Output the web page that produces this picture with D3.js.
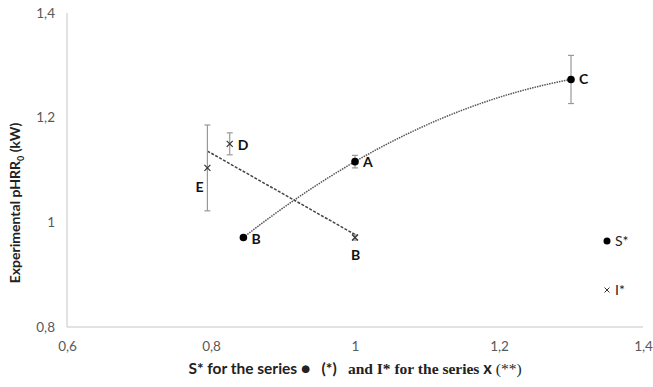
<!DOCTYPE html>
<html lang="en">
<head>
<meta charset="UTF-8">
<title>pHRR0 vs S* / I*</title>
<script src="https://cdn.jsdelivr.net/npm/d3@7"></script>
<style>
  body { margin: 0; background: #fff; }
  svg { font-family: Lato, "Open Sans", sans-serif; }
  .serif { font-family: "Liberation Serif", "DejaVu Serif", serif; }
</style>
</head>
<body>
<script>
// series S* (dots)
const sLabels = ["B", "A", "C"];
const sX = [0.845, 1.0, 1.3];
const sY = [0.971, 1.116, 1.273];
const sErr = [0, 0.012, 0.046];

// series I* (crosses)
const iLabels = ["E", "D", "B"];
const iX = [0.795, 0.826, 1.0];
const iY = [1.104, 1.15, 0.971];
const iErr = [0.082, 0.021, 0.005];

const xTicks = [0.6, 0.8, 1, 1.2, 1.4];
const yTicks = [0.8, 1, 1.2, 1.4];

const w = 653, h = 387;
const margin = {left: 67, right: 10, top: 13, bottom: 60};

const svg = d3.select("body").append("svg")
    .attr("width", w)
    .attr("height", h);

const x = d3.scaleLinear().domain([0.6, 1.4]).range([margin.left, 643]);
const y = d3.scaleLinear().domain([0.8, 1.4]).range([327, margin.top]);

const fmt = d => String(d).replace(".", ",");

// axes
const xAxis = svg.append("g")
    .attr("transform", "translate(0,327)")
    .call(d3.axisBottom(x).tickValues(xTicks).tickFormat(fmt).tickSize(0).tickPadding(14));
const yAxis = svg.append("g")
    .attr("transform", "translate(" + margin.left + ",0)")
    .call(d3.axisLeft(y).tickValues(yTicks).tickFormat(fmt).tickSize(0).tickPadding(12));
[xAxis, yAxis].forEach(a => {
    a.attr("font-family", null).attr("font-size", null);
    a.select(".domain").attr("stroke", "#d9d9d9").attr("stroke-width", 1.5);
    a.selectAll("text").attr("fill", "#595959").attr("font-size", "13.5px");
});
yAxis.select(".domain").attr("d", "M0," + y(1.4) + "V" + y(0.8));
xAxis.select(".domain").attr("d", "M" + x(0.6) + ",0H" + x(1.4));

// trendline S* : polynomial (order 2) through the three points
function quadFit(xs, ys) {
    const [x0, x1, x2] = xs, [y0, y1, y2] = ys;
    return t => y0 * (t - x1) * (t - x2) / ((x0 - x1) * (x0 - x2))
        + y1 * (t - x0) * (t - x2) / ((x1 - x0) * (x1 - x2))
        + y2 * (t - x0) * (t - x1) / ((x2 - x0) * (x2 - x1));
}
const qf = quadFit(sX, sY);
const curvePts = d3.range(0, 41).map(i => {
    const t = sX[0] + (sX[2] - sX[0]) * i / 40;
    return [t, qf(t)];
});
const line = d3.line().x(d => x(d[0])).y(d => y(d[1]));
svg.append("path")
    .attr("d", line(curvePts))
    .attr("fill", "none")
    .attr("stroke", "#555")
    .attr("stroke-width", 1.5)
    .attr("stroke-dasharray", "1.5,1");

// trendline I* : linear regression
const mx = d3.mean(iX), my = d3.mean(iY);
const slope = d3.sum(iX, (d, i) => (d - mx) * (iY[i] - my)) / d3.sum(iX, d => (d - mx) * (d - mx));
const lin = t => my + slope * (t - mx);
const xMin = d3.min(iX), xMax = d3.max(iX);
svg.append("path")
    .attr("d", line([[xMin, lin(xMin)], [xMax, lin(xMax)]]))
    .attr("fill", "none")
    .attr("stroke", "#444")
    .attr("stroke-width", 1.5)
    .attr("stroke-dasharray", "3,1.5");

// error bars
function errBars(xs, ys, es) {
    const g = svg.append("g").attr("stroke", "#999").attr("stroke-width", 1.2);
    xs.forEach((d, i) => {
        if (!es[i]) return;
        const cx = x(d), top = y(ys[i] + es[i]), bot = y(ys[i] - es[i]);
        g.append("line").attr("x1", cx).attr("x2", cx).attr("y1", top).attr("y2", bot);
        g.append("line").attr("x1", cx - 3).attr("x2", cx + 3).attr("y1", top).attr("y2", top);
        g.append("line").attr("x1", cx - 3).attr("x2", cx + 3).attr("y1", bot).attr("y2", bot);
    });
}
errBars(sX, sY, sErr);
errBars(iX, iY, iErr);

// markers
svg.selectAll("circle.s")
    .data(sX)
    .enter()
    .append("circle")
    .attr("cx", d => x(d))
    .attr("cy", (d, i) => y(sY[i]))
    .attr("r", 3.8)
    .attr("fill", "#000");

function cross(cx, cy, r) {
    return "M" + (cx - r) + "," + (cy - r) + "L" + (cx + r) + "," + (cy + r)
        + "M" + (cx - r) + "," + (cy + r) + "L" + (cx + r) + "," + (cy - r);
}
svg.selectAll("path.i")
    .data(iX)
    .enter()
    .append("path")
    .attr("d", (d, i) => cross(x(d), y(iY[i]), 3))
    .attr("stroke", "#333")
    .attr("stroke-width", 1.2);

// data labels
const sOff = [[8, 6], [8, 5], [8, 5]];
svg.selectAll("text.sl")
    .data(sLabels)
    .enter()
    .append("text")
    .text(d => d)
    .attr("x", (d, i) => x(sX[i]) + sOff[i][0])
    .attr("y", (d, i) => y(sY[i]) + sOff[i][1])
    .attr("font-size", "14px")
    .attr("font-weight", "bold")
    .attr("fill", "#111");

const iOff = [[-12, 24], [8, 6], [-4, 22]];
svg.selectAll("text.il")
    .data(iLabels)
    .enter()
    .append("text")
    .text(d => d)
    .attr("x", (d, i) => x(iX[i]) + iOff[i][0])
    .attr("y", (d, i) => y(iY[i]) + iOff[i][1])
    .attr("font-size", "14px")
    .attr("font-weight", "bold")
    .attr("fill", "#111");

// legend
svg.append("circle").attr("cx", 607).attr("cy", 241).attr("r", 3.5).attr("fill", "#000");
svg.append("text").attr("x", 615).attr("y", 246).text("S*")
    .attr("font-size", "14px").attr("fill", "#222");
svg.append("path").attr("d", cross(607, 290, 2.5)).attr("stroke", "#333").attr("stroke-width", 1);
svg.append("text").attr("x", 615).attr("y", 295).text("I*")
    .attr("font-size", "14px").attr("fill", "#222");

// axis titles
svg.append("text")
    .attr("transform", "translate(20,203) rotate(-90)")
    .attr("text-anchor", "middle")
    .attr("font-size", "14px")
    .attr("font-weight", "bold")
    .attr("fill", "#222")
    .call(t => {
        t.append("tspan").text("Experimental pHRR");
        t.append("tspan").text("0").attr("font-size", "9px").attr("dy", 4);
        t.append("tspan").text(" (kW)").attr("dy", -4);
    });

const xt = svg.append("text")
    .attr("x", 355)
    .attr("y", 374)
    .attr("text-anchor", "middle")
    .attr("font-size", "15.5px")
    .attr("font-weight", "bold")
    .attr("fill", "#222")
    .style("white-space", "pre");
xt.append("tspan").text("S* for the series \u25CF   (*)   ");
xt.append("tspan").attr("class", "serif").text("and I* for the series ");
xt.append("tspan").text("x").attr("font-size", "16.5px");
xt.append("tspan").attr("class", "serif").text(" (**)").attr("font-weight", "normal");
</script>
</body>
</html>
